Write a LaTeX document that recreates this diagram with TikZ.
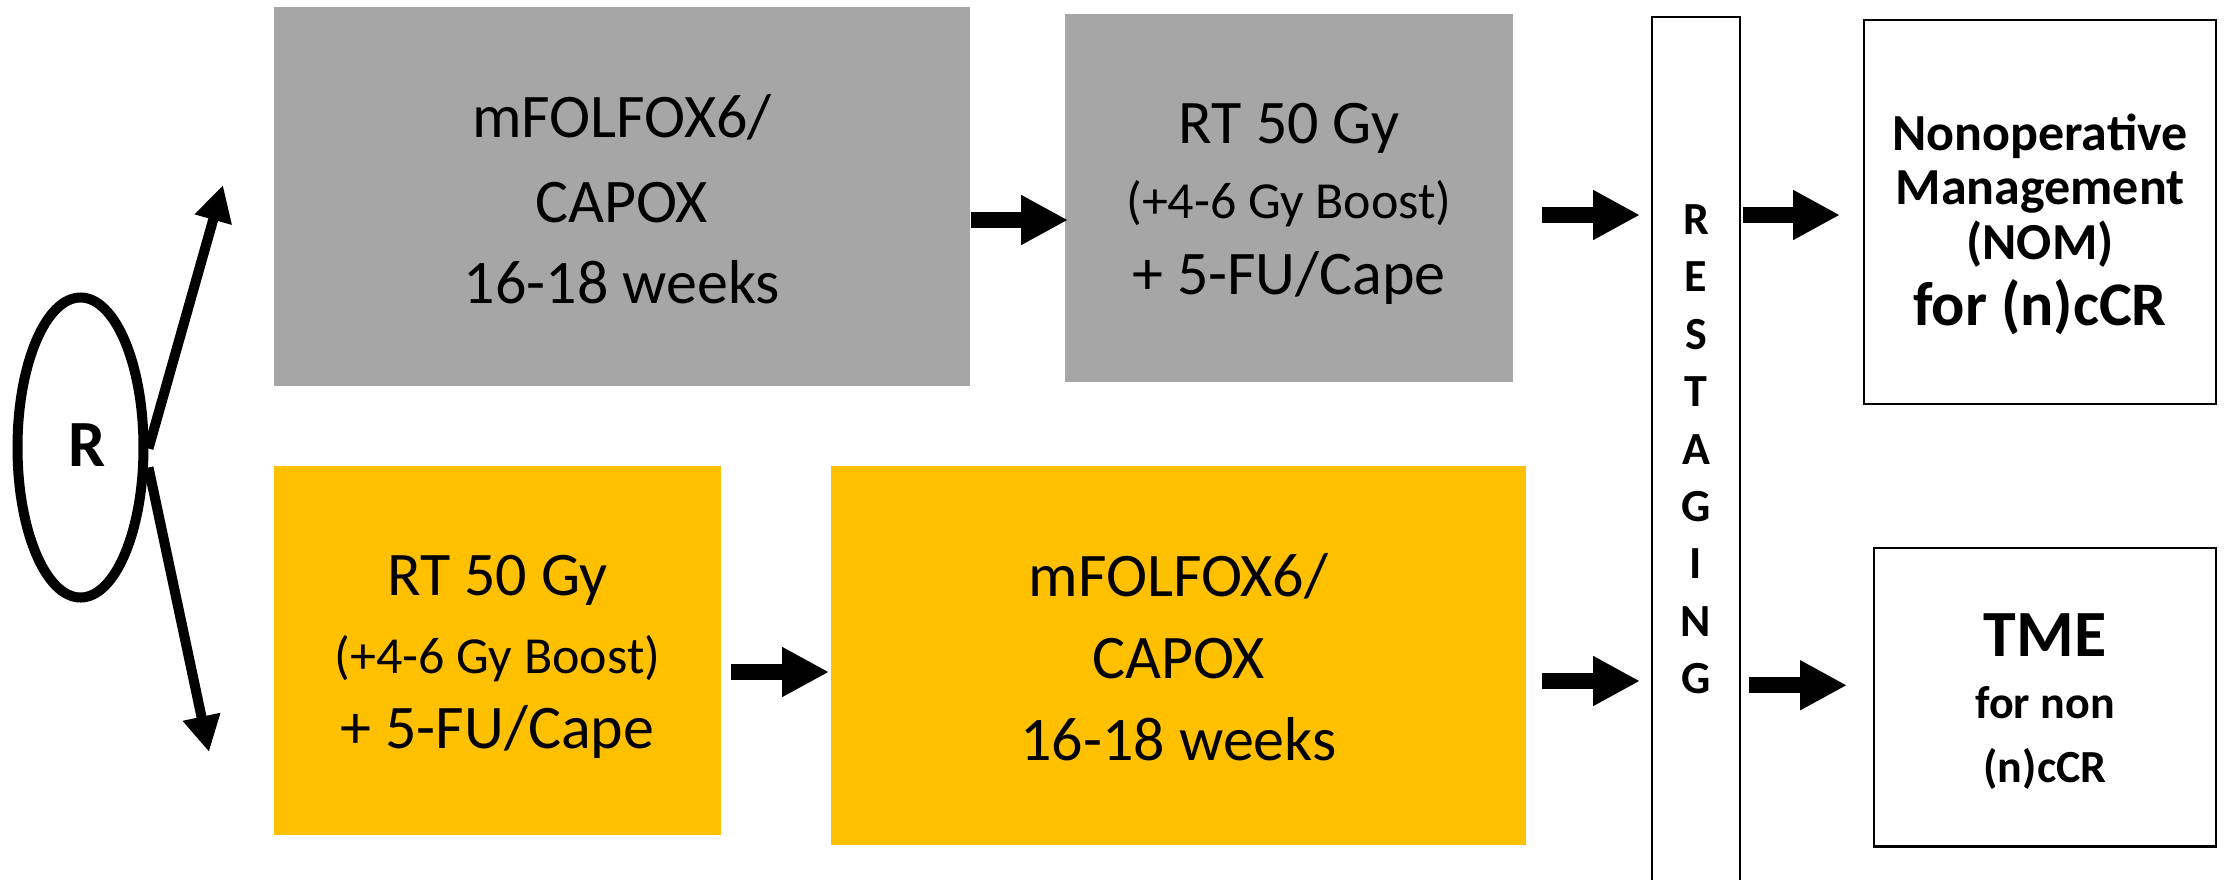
\documentclass[tikz,border=0pt]{standalone}
\usepackage{fontspec}
\setmainfont{Carlito}
\usetikzlibrary{arrows.meta,shapes.geometric,calc}
\definecolor{boxgray}{HTML}{A6A6A6}
\definecolor{boxyellow}{HTML}{FFC000}
\begin{document}
\begin{tikzpicture}[x=0.5pt,y=-0.5pt,
  fillbox/.style={rectangle,inner sep=0pt,outer sep=0pt,draw=none},
  whitebox/.style={rectangle,inner sep=0pt,outer sep=0pt,draw=black,line width=1.1pt,fill=white},
  txtreg/.style={font=\fontsize{31}{37}\selectfont,inner sep=0pt,anchor=base},
  txtsmall/.style={font=\fontsize{26}{31}\selectfont,inner sep=0pt,anchor=base},
  txtnom/.style={font=\bfseries\fontsize{26}{31}\selectfont,inner sep=0pt,anchor=base},
  txtbig/.style={font=\bfseries\fontsize{31}{37}\selectfont,inner sep=0pt,anchor=base},
  txttme/.style={font=\bfseries\fontsize{33}{40}\selectfont,inner sep=0pt,anchor=base},
  txttmesub/.style={font=\bfseries\fontsize{23}{28}\selectfont,inner sep=0pt,anchor=base},
  letterst/.style={font=\bfseries\fontsize{23}{28}\selectfont,inner sep=0pt,anchor=base},
  blockarrow/.style={line width=8pt,-{Triangle[length=23.5pt,width=23.5pt]}},
  thinarrow/.style={line width=5pt,-{Triangle[length=18pt,width=18pt]}},
]
\fill[white] (0,0) rectangle (2229,879);
\useasboundingbox (0,0) rectangle (2229,879);

% randomisation
\node[ellipse,draw=black,line width=5pt,minimum width=63pt,minimum height=150pt,inner sep=0pt] (rand) at (80.5,447.5) {};
\node[font=\bfseries\fontsize{33}{40}\selectfont,inner sep=0pt,anchor=base] (rtxt) at (87,466) {R};
\coordinate (uptip) at (223,185);
\coordinate (dntip) at (209,752);

% boxes
\node[fillbox,fill=boxgray,minimum width=348pt,minimum height=189.5pt] (g1) at (622,196.5) {};
\node[fillbox,fill=boxgray,minimum width=224pt,minimum height=184pt] (g2) at (1289,198) {};
\node[fillbox,fill=boxyellow,minimum width=223.5pt,minimum height=184.5pt] (y1) at (497.5,650.5) {};
\node[fillbox,fill=boxyellow,minimum width=347.5pt,minimum height=189.5pt] (y2) at (1178.5,655.5) {};
\node[whitebox,minimum width=44pt,minimum height=450pt] (rs) at (1696,467) {};
\node[whitebox,minimum width=176pt,minimum height=192pt] (nom) at (2040,212) {};
\node[whitebox,minimum width=171pt,minimum height=149.25pt] (tme) at (2045,697.25) {};

% texts
\node[txtreg] (g1a) at (622,137) {mFOLFOX6/};
\node[txtreg] (g1b) at (622,222) {CAPOX};
\node[txtreg] (g1c) at (622,303) {16-18 weeks};

\node[txtreg] (g2a) at (1289,143) {RT 50 Gy};
\node[txtsmall] (g2b) at (1289,218) {(+4-6 Gy Boost)};
\node[txtreg] (g2c) at (1289,294) {+ 5-FU/Cape};

\node[txtreg] (y1a) at (497.5,595) {RT 50 Gy};
\node[txtsmall] (y1b) at (497.5,673) {(+4-6 Gy Boost)};
\node[txtreg] (y1c) at (497.5,748) {+ 5-FU/Cape};

\node[txtreg] (y2a) at (1178.5,596) {mFOLFOX6/};
\node[txtreg] (y2b) at (1178.5,678) {CAPOX};
\node[txtreg] (y2c) at (1178.5,760) {16-18 weeks};

\node[txtnom] (noma) at (2040,150) {Nonoperative};
\node[txtnom] (nomb) at (2040,204) {Management};
\node[txtnom] (nomc) at (2040,259) {(NOM)};
\node[txtbig] (nomd) at (2040,325) {for (n)cCR};

\node[txttme] (tmea) at (2045,656) {TME};
\node[txttmesub] (tmeb) at (2045,718) {for non};
\node[txttmesub] (tmec) at (2045,782) {(n)cCR};

\foreach \l [count=\i from 0] in {R,E,S,T,A,G,I,N,G}
  \node[letterst] (rsl\i) at (1696,{234.5+57.4*\i}) {\l};

% arrows
\draw[thinarrow] ($(rand.east)+(0,1)$) -- (uptip);
\draw[thinarrow] ($(rand.east)+(0,20)$) -- (dntip);

\draw[blockarrow] ($(g1.east)+(1,23.5)$) -- ($(g2.west)+(3,22)$);
\draw[blockarrow] ($(g2.east)+(29,17)$) -- ($(rs.west |- g2.east)+(-12,17)$);
\draw[blockarrow] ($(rs.east |- nom.west)+(3,3)$) -- ($(nom.west)+(-24,3)$);
\draw[blockarrow] ($(y1.east)+(10,21.5)$) -- ($(y2.west)+(-2,16.5)$);
\draw[blockarrow] ($(y2.east)+(16,25.5)$) -- ($(rs.west |- y2.east)+(-12,25.5)$);
\draw[blockarrow] ($(rs.east |- tme.west)+(9,-12)$) -- ($(tme.west)+(-27,-12)$);
\end{tikzpicture}
\end{document}
